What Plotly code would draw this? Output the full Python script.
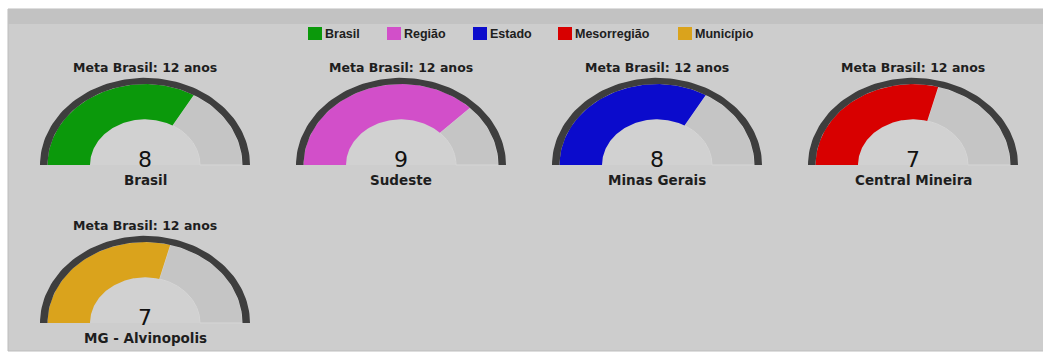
import numpy as np
import plotly.graph_objects as go

# --- data ---------------------------------------------------------------
regioes = ["Brasil", "Sudeste", "Minas Gerais", "Central Mineira", "MG - Alvinopolis"]
niveis = ["Brasil", "Região", "Estado", "Mesorregião", "Município"]
anos_estudo = [8, 9, 8, 7, 7]
meta_anos = 12
titulo_meta = "Meta Brasil: 12 anos"

# --- styling / layout ---------------------------------------------------
cores = ["#0b990b", "#d24fc9", "#0b0bcc", "#d80000", "#daa31c"]
W, H = 1043, 353
centros = [(145, 165), (401, 165), (657, 165), (913, 165), (145, 323)]
R_ANEL, R_EXT, R_INT = 105, 97.5, 55      # outer ring, band outer, band inner (px)
ACHAT = 0.83                               # vertical squash of the dial
legenda_x = [308, 387, 473, 558, 678]
FONTE = "DejaVu Sans"


def arco(cx, cy, r_out, r_in, a0, a1, n=90):
    """Closed polygon of an elliptical annulus sector between angles a0..a1 (deg)."""
    a = np.radians(np.linspace(a0, a1, n))
    xo = cx + r_out * np.cos(a)
    yo = cy - r_out * ACHAT * np.sin(a)
    xi = cx + r_in * np.cos(a[::-1])
    yi = cy - r_in * ACHAT * np.sin(a[::-1])
    xs = np.concatenate([xo, xi, xo[:1]])
    ys = np.concatenate([yo, yi, yo[:1]])
    return xs, ys


fig = go.Figure()


def poly(xs, ys, fill, line_color=None, line_width=0):
    fig.add_trace(go.Scatter(
        x=xs, y=ys, mode="lines", fill="toself", fillcolor=fill,
        line=dict(color=line_color or fill, width=line_width),
        hoverinfo="skip", showlegend=False))


# panel backgrounds
fig.add_shape(type="rect", x0=8, x1=W + 2, y0=9, y1=351, xref="x", yref="y",
              fillcolor="#cdcdcd", line=dict(color="#bdbdbd", width=1), layer="below")
fig.add_shape(type="rect", x0=8, x1=W + 2, y0=9, y1=24, xref="x", yref="y",
              fillcolor="#c2c2c2", line=dict(width=0), layer="below")

for (cx, cy), valor, cor, nome in zip(centros, anos_estudo, cores, regioes):
    ang = 180.0 * (1 - valor / meta_anos)
    # slightly lighter hole in the middle of the dial
    poly(*arco(cx, cy, R_INT, 0, 0, 180), "#d1d1d1")
    # remaining part up to the goal
    poly(*arco(cx, cy, R_EXT, R_INT, 0, ang), "#c5c5c5", "#d6d6d6", 1)
    # achieved part
    poly(*arco(cx, cy, R_EXT, R_INT, ang, 180), cor)
    # dark outer rim
    poly(*arco(cx, cy, R_ANEL, R_EXT, 0, 180), "#3e3e3e")

    fig.add_annotation(x=cx, y=cy - 98, text="<b>" + titulo_meta + "</b>", showarrow=False,
                       font=dict(family=FONTE, size=12.5, color="#1e1e1e"))
    fig.add_annotation(x=cx, y=cy - 6, text=str(valor), showarrow=False,
                       font=dict(family=FONTE, size=22, color="#111111"))
    fig.add_annotation(x=cx, y=cy + 15, text="<b>" + nome + "</b>", showarrow=False,
                       font=dict(family=FONTE, size=13.5, color="#1e1e1e"))

# legend row
for lx, cor, nivel in zip(legenda_x, cores, niveis):
    fig.add_shape(type="rect", x0=lx, x1=lx + 14, y0=27, y1=40,
                  xref="x", yref="y", fillcolor=cor, line=dict(width=0), layer="below")
    fig.add_annotation(x=lx + 15, y=33.5, text="<b>" + nivel + "</b>", showarrow=False,
                       xanchor="left",
                       font=dict(family="Liberation Sans", size=12.5, color="#202020"))

fig.update_layout(
    width=W, height=H, margin=dict(l=0, r=0, t=0, b=0),
    paper_bgcolor="white", plot_bgcolor="white",
    xaxis=dict(range=[0, W], visible=False, fixedrange=True),
    yaxis=dict(range=[H, 0], visible=False, fixedrange=True),
    showlegend=False,
)

fig.write_html("out.html")
